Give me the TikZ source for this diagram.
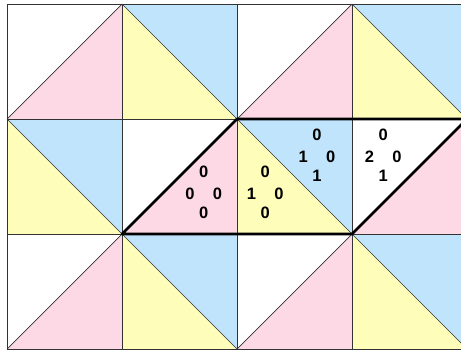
\documentclass[tikz,border=0pt]{standalone}
\usepackage{fontspec}
\setmainfont{Liberation Sans}[BoldFont = Liberation Sans Bold]
\definecolor{tilepink}{RGB}{253,217,229}
\definecolor{tileblue}{RGB}{192,228,252}
\definecolor{tileyellow}{RGB}{255,253,186}
\begin{document}
\begin{tikzpicture} [x = 115pt, y = 115pt,
	num/.style = {font = \bfseries\fontsize{16.5}{16.5}\selectfont, inner sep = 0pt},
	thin line/.style = {draw = black!80, line width = 0.7pt},
	thick line/.style = {draw = black, line width = 2.6pt, line join = round}]
	\useasboundingbox (-0.0609,-0.0348) rectangle (3.9478,3.0348);
	\clip (-0.0609,-0.0348) rectangle (3.9478,3.0348);
	% tiles: two kinds, alternating like a chessboard
	\foreach \i in {0,...,3} {
		\foreach \j in {0,1,2} {
			\pgfmathtruncatemacro\tiletype{mod(\i+\j,2)}
			\ifnum\tiletype=0
				\fill [white] (\i,\j) -- (\i,\j+1) -- (\i+1,\j+1) -- cycle;
				\fill [tilepink] (\i,\j) -- (\i+1,\j) -- (\i+1,\j+1) -- cycle;
				\draw [thin line] (\i,\j) -- (\i+1,\j+1);
			\else
				\fill [tileyellow] (\i,\j) -- (\i,\j+1) -- (\i+1,\j) -- cycle;
				\fill [tileblue] (\i,\j+1) -- (\i+1,\j+1) -- (\i+1,\j) -- cycle;
				\draw [thin line] (\i,\j+1) -- (\i+1,\j);
			\fi
		}
	}
	\draw [thin line, step = 115pt] (0,0) grid (4,3);
	% the marked parallelogram
	\draw [thick line] (1,1) -- (2,2) -- (4,2) -- (3,1) -- cycle;
	% numbers in the four triangles
	\foreach \cx/\cy/\nt/\nl/\nr/\nb [count = \k] in {1.71/1.348/0/0/0/0, 2.245/1.348/0/1/0/0, 2.695/1.670/0/1/0/1, 3.272/1.670/0/2/0/1} {
		\node [num] (top\k) at (\cx,\cy+0.19) {\nt};
		\node [num] (left\k) at (\cx-0.12,\cy) {\nl};
		\node [num] (right\k) at (\cx+0.12,\cy) {\nr};
		\node [num] (bottom\k) at (\cx,\cy-0.165) {\nb};
	}
\end{tikzpicture}
\end{document}
